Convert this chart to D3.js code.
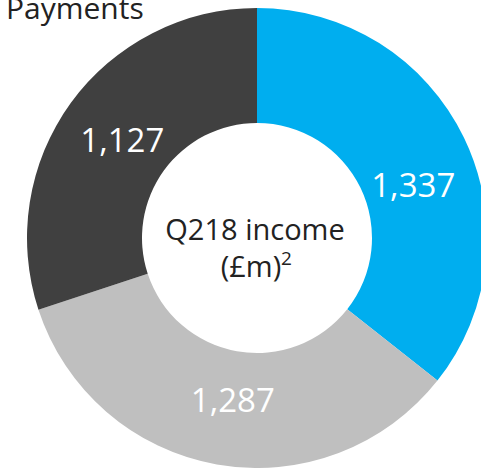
<!DOCTYPE html>
<html>
<head>
<meta charset="utf-8">
<script src="https://cdn.jsdelivr.net/npm/d3@7"></script>
<style>
  body { margin: 0; background: #fff; }
  svg { display: block; }
</style>
</head>
<body>
<div id="chart"></div>
<script>
// income by segment (£m)
var segments = ["Segment A", "Segment B", "Segment C"]
var values = [1337, 1287, 1127]
var labels = ["1,337", "1,287", "1,127"]
var colours = ["#00aeef", "#bfbfbf", "#404040"]

var w = 481
var h = 468
var cx = 257
var cy = 238
var outerR = 230
var innerR = 115

var svg = d3.select("#chart").append("svg")
    .attr("width", w)
    .attr("height", h)

var g = svg.append("g")
    .attr("transform", "translate(" + cx + "," + cy + ")")

var pie = d3.pie().sort(null).value(function(d) { return d })
var arc = d3.arc().innerRadius(innerR).outerRadius(outerR)

var arcs = pie(values)

g.selectAll("path")
    .data(arcs)
    .enter()
    .append("path")
    .attr("d", arc)
    .attr("fill", function(d, i) { return colours[i] })

// labels sit near the centroid, nudged like the original
var nudge = [[1, 23], [6, -7], [5, 4]]
g.selectAll("text.val")
    .data(arcs)
    .enter()
    .append("text")
    .attr("class", "val")
    .attr("x", function(d, i) { return arc.centroid(d)[0] + nudge[i][0] })
    .attr("y", function(d, i) { return arc.centroid(d)[1] + nudge[i][1] })
    .attr("dy", "0.35em")
    .attr("text-anchor", "middle")
    .attr("fill", "#fff")
    .attr("font-family", "'Open Sans', sans-serif")
    .attr("font-size", 33)
    .text(function(d, i) { return labels[i] })

// centre caption
g.append("text")
    .attr("x", -2)
    .attr("y", 2)
    .attr("text-anchor", "middle")
    .attr("fill", "#222")
    .attr("font-family", "'Open Sans', sans-serif")
    .attr("font-size", 29)
    .text("Q218 income")

var l2 = g.append("text")
    .attr("x", -6)
    .attr("y", 39)
    .attr("text-anchor", "middle")
    .attr("fill", "#222")
    .attr("font-family", "'Open Sans', sans-serif")
    .attr("font-size", 29)
    .text("(£m)")

// superscript note marker
g.append("text")
    .attr("x", 24)
    .attr("y", 27)
    .attr("fill", "#222")
    .attr("font-family", "'Open Sans', sans-serif")
    .attr("font-size", 19)
    .text("2")

// title, clipped at top like the source
svg.append("text")
    .attr("x", 6)
    .attr("y", 19)
    .attr("fill", "#222")
    .attr("font-family", "'Open Sans', sans-serif")
    .attr("font-size", 30)
    .text("Payments")
</script>
</body>
</html>
